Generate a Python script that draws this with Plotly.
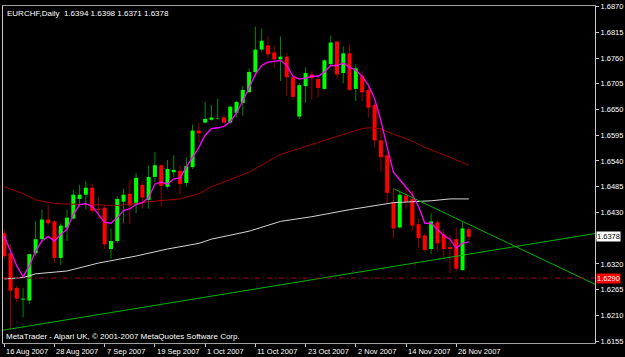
import plotly.graph_objects as go

# ---------------- data ----------------
symbol_title = "EURCHF,Daily"

opens = [1.6386, 1.6343, 1.6269, 1.6244, 1.6242, 1.6343, 1.6373, 1.6415, 1.6411, 1.6333,
         1.6398, 1.6417, 1.6459, 1.6468, 1.6483, 1.6438, 1.6440, 1.6352, 1.6369, 1.6453,
         1.6470, 1.6447, 1.6489, 1.6457, 1.6506, 1.6531, 1.6485, 1.6516, 1.6519, 1.6493,
         1.6527, 1.6605, 1.6622, 1.6628, 1.6630, 1.6633, 1.6622, 1.6643, 1.6664, 1.6687,
         1.6730, 1.6778, 1.6787, 1.6772, 1.6757, 1.6763, 1.6719, 1.6635, 1.6700, 1.6725,
         1.6715, 1.6694, 1.6747, 1.6795, 1.6728, 1.6770, 1.6694, 1.6721, 1.6692, 1.6660,
         1.6584, 1.6552, 1.6451, 1.6398, 1.6466, 1.6459, 1.6405, 1.6381, 1.6352, 1.6409,
         1.6383, 1.6356, 1.6373, 1.6307, 1.6394]
highs = [1.6394, 1.6362, 1.6274, 1.6269, 1.6342, 1.6411, 1.6436, 1.6447, 1.6413, 1.6407,
         1.6436, 1.6478, 1.6489, 1.6497, 1.6491, 1.6462, 1.6445, 1.6396, 1.6464, 1.6481,
         1.6500, 1.6514, 1.6497, 1.6531, 1.6559, 1.6533, 1.6542, 1.6552, 1.6531, 1.6548,
         1.6618, 1.6622, 1.6666, 1.6660, 1.6673, 1.6639, 1.6658, 1.6668, 1.6700, 1.6738,
         1.6827, 1.6823, 1.6806, 1.6787, 1.6806, 1.6770, 1.6723, 1.6706, 1.6740, 1.6732,
         1.6721, 1.6757, 1.6808, 1.6797, 1.6785, 1.6789, 1.6747, 1.6732, 1.6700, 1.6664,
         1.6607, 1.6559, 1.6481, 1.6474, 1.6489, 1.6476, 1.6417, 1.6386, 1.6428, 1.6413,
         1.6394, 1.6383, 1.6398, 1.6411, 1.6398]
lows = [1.6331, 1.6179, 1.6238, 1.6206, 1.6234, 1.6337, 1.6369, 1.6402, 1.6322, 1.6318,
        1.6369, 1.6415, 1.6443, 1.6436, 1.6428, 1.6417, 1.6352, 1.6331, 1.6364, 1.6407,
        1.6405, 1.6428, 1.6438, 1.6438, 1.6495, 1.6443, 1.6481, 1.6506, 1.6468, 1.6485,
        1.6523, 1.6580, 1.6620, 1.6626, 1.6628, 1.6620, 1.6620, 1.6633, 1.6637, 1.6685,
        1.6723, 1.6774, 1.6759, 1.6738, 1.6711, 1.6679, 1.6671, 1.6630, 1.6664, 1.6671,
        1.6675, 1.6692, 1.6744, 1.6715, 1.6706, 1.6690, 1.6668, 1.6668, 1.6633, 1.6569,
        1.6516, 1.6449, 1.6375, 1.6396, 1.6438, 1.6390, 1.6354, 1.6345, 1.6341, 1.6348,
        1.6331, 1.6299, 1.6305, 1.6305, 1.6371]
closes = [1.6337, 1.6263, 1.6246, 1.6246, 1.6341, 1.6373, 1.6415, 1.6407, 1.6333, 1.6402,
          1.6419, 1.6468, 1.6468, 1.6483, 1.6434, 1.6436, 1.6362, 1.6369, 1.6459, 1.6468,
          1.6445, 1.6504, 1.6462, 1.6506, 1.6531, 1.6487, 1.6523, 1.6521, 1.6491, 1.6529,
          1.6605, 1.6599, 1.6630, 1.6633, 1.6631, 1.6622, 1.6656, 1.6666, 1.6692, 1.6730,
          1.6778, 1.6797, 1.6768, 1.6757, 1.6763, 1.6719, 1.6677, 1.6702, 1.6728, 1.6717,
          1.6696, 1.6755, 1.6793, 1.6725, 1.6770, 1.6692, 1.6738, 1.6687, 1.6654, 1.6584,
          1.6548, 1.6472, 1.6396, 1.6468, 1.6453, 1.6402, 1.6375, 1.6350, 1.6411, 1.6364,
          1.6352, 1.6352, 1.6310, 1.6396, 1.6378]

# magenta fast average, one value per bar
ma_fast = [1.6379, 1.6348, 1.6316, 1.6293, 1.6316, 1.6348, 1.6369, 1.6379, 1.6369, 1.6383,
           1.6394, 1.6426, 1.6447, 1.6449, 1.6443, 1.6426, 1.6409, 1.6407, 1.6419, 1.6434,
           1.6438, 1.6447, 1.6451, 1.6462, 1.6491, 1.6495, 1.6491, 1.6502, 1.6504, 1.6527,
           1.6548, 1.6569, 1.6595, 1.6609, 1.6611, 1.6614, 1.6624, 1.6643, 1.6668, 1.6696,
           1.6725, 1.6744, 1.6751, 1.6753, 1.6755, 1.6744, 1.6721, 1.6715, 1.6717, 1.6721,
           1.6721, 1.6730, 1.6744, 1.6744, 1.6749, 1.6740, 1.6734, 1.6721, 1.6702, 1.6673,
           1.6626, 1.6569, 1.6516, 1.6500, 1.6485, 1.6468, 1.6443, 1.6407, 1.6407, 1.6394,
           1.6381, 1.6373, 1.6354, 1.6364, 1.6367]

# dark red average (read at selected bars)
ma_mid_bars = [0, 3, 5, 8, 18, 23, 28, 31, 33, 39, 44, 49, 55, 57, 58, 60, 62, 64, 67, 71, 74]
ma_mid = [1.6485, 1.6470, 1.6457, 1.6449, 1.6445, 1.6453, 1.6459, 1.6470, 1.6485, 1.6516,
          1.6554, 1.6576, 1.6601, 1.6609, 1.6611, 1.6609, 1.6597, 1.6588, 1.6569, 1.6548, 1.6531]

# light grey slow average (read at selected bars)
ma_slow_bars = [0, 3, 5, 10, 15, 21, 26, 31, 33, 39, 44, 49, 55, 57, 60, 62, 65, 68, 71, 74]
ma_slow = [1.6288, 1.6291, 1.6299, 1.6305, 1.6322, 1.6337, 1.6352, 1.6364, 1.6373, 1.6390,
           1.6411, 1.6421, 1.6436, 1.6440, 1.6447, 1.6451, 1.6453, 1.6455, 1.6459, 1.6459]

# trend lines: anchor bars and prices
trend_up_bars = [0, 74]
trend_up_prices = [1.6179, 1.6341]
trend_down_bars = [62, 73]
trend_down_prices = [1.6481, 1.6411]

alert_level = 1.6290

tick_bars = [0, 8, 16, 24, 32, 40, 48, 56, 64, 72]
tick_labels = ["16 Aug 2007", "28 Aug 2007", "7 Sep 2007", "19 Sep 2007", "1 Oct 2007",
               "11 Oct 2007", "23 Oct 2007", "2 Nov 2007", "14 Nov 2007", "26 Nov 2007"]
price_ticks = [1.6870, 1.6815, 1.6760, 1.6705, 1.6650, 1.6595, 1.6540, 1.6485,
               1.6430, 1.6375, 1.6320, 1.6265, 1.6210, 1.6155]
price_tick_labels = ["1.6870", "1.6815", "1.6760", "1.6705", "1.6650", "1.6595", "1.6540",
                     "1.6485", "1.6430", "", "1.6320", "1.6265", "1.6210", "1.6155"]
watermark = "MetaTrader - Alpari UK, \u00a9 2001-2007 MetaQuotes Software Corp."

# ---------------- figure ----------------
X_RANGE = [-0.2, 94.1]
Y_RANGE = [1.61512, 1.68711]
FONT = "Liberation Sans"

bars = list(range(len(opens)))
up = [i for i in bars if closes[i] >= opens[i]]
dn = [i for i in bars if closes[i] < opens[i]]


def segments(idx, a, b):
    xs, ys = [], []
    for i in idx:
        xs += [i, i, None]
        ys += [a[i], b[i], None]
    return xs, ys


fig = go.Figure()

# wicks
for idx, col in ((up, "#008a00"), (dn, "#9a0000")):
    xs, ys = segments(idx, lows, highs)
    fig.add_trace(go.Scatter(x=xs, y=ys, mode="lines", line=dict(color=col, width=1),
                             hoverinfo="skip"))
# bodies
for idx, col in ((up, "#00ff00"), (dn, "#ff0000")):
    xs, ys = segments(idx, opens, closes)
    fig.add_trace(go.Scatter(x=xs, y=ys, mode="lines", line=dict(color=col, width=4),
                             hoverinfo="skip"))

# moving averages
fig.add_trace(go.Scatter(x=ma_slow_bars, y=ma_slow, mode="lines",
                         line=dict(color="#d4d4d4", width=1)))
fig.add_trace(go.Scatter(x=ma_mid_bars, y=ma_mid, mode="lines",
                         line=dict(color="#a00000", width=1)))
fig.add_trace(go.Scatter(x=bars, y=ma_fast, mode="lines",
                         line=dict(color="#ff00ff", width=1.3)))


# trend lines (rays extended to the chart edges)
def ray(bx, py, x_from, x_to):
    s = (py[1] - py[0]) / (bx[1] - bx[0])
    return [x_from, x_to], [py[0] + s * (x_from - bx[0]), py[0] + s * (x_to - bx[0])]


xs, ys = ray(trend_up_bars, trend_up_prices, X_RANGE[0], X_RANGE[1])
fig.add_trace(go.Scatter(x=xs, y=ys, mode="lines", line=dict(color="#00b400", width=1)))
xs, ys = ray(trend_down_bars, trend_down_prices, trend_down_bars[0], X_RANGE[1])
fig.add_trace(go.Scatter(x=xs, y=ys, mode="lines", line=dict(color="#00b400", width=1)))

# alert line
fig.add_shape(type="line", xref="paper", x0=0, x1=1, yref="y", y0=alert_level, y1=alert_level,
              line=dict(color="#a0002a", width=1, dash="5px,3px,1px,3px"), layer="above")

annotations = []
last = len(opens) - 1
annotations.append(dict(
    xref="paper", yref="paper", x=0, y=1, xanchor="left", yanchor="top", xshift=2, yshift=-1,
    text=f"{symbol_title}\u00a0\u00a0{opens[last]:.4f} {highs[last]:.4f} {lows[last]:.4f} {closes[last]:.4f}",
    showarrow=False, font=dict(color="white", size=8, family=FONT)))
annotations.append(dict(
    xref="paper", yref="paper", x=0, y=0, xanchor="left", yanchor="bottom", xshift=1, yshift=0,
    text=watermark, showarrow=False, font=dict(color="white", size=8, family=FONT)))
for b, lab in zip(tick_bars, tick_labels):
    annotations.append(dict(
        xref="x", yref="paper", x=b, y=0, xanchor="left", yanchor="middle", xshift=0, yshift=-8,
        text=lab, showarrow=False, font=dict(color="white", size=7.5, family=FONT)))
annotations.append(dict(
    xref="paper", yref="y", x=1, y=closes[last], xanchor="left", yanchor="middle", xshift=1,
    text=f"{closes[last]:.4f}", showarrow=False, bgcolor="white", borderpad=0,
    font=dict(color="black", size=7.5, family=FONT)))
annotations.append(dict(
    xref="paper", yref="y", x=1, y=alert_level, xanchor="left", yanchor="middle", xshift=1,
    text=f"{alert_level:.4f}", showarrow=False, bgcolor="#ff0000", borderpad=0,
    font=dict(color="white", size=7.5, family=FONT)))

fig.update_layout(
    width=625, height=357,
    margin=dict(l=2, r=30, t=2, b=14, pad=0),
    paper_bgcolor="black", plot_bgcolor="black",
    showlegend=False, hovermode=False,
    annotations=annotations,
    xaxis=dict(range=X_RANGE, tickmode="array", tickvals=tick_bars, showticklabels=False,
               ticks="outside", ticklen=3, tickcolor="#c8c8c8", tickwidth=1,
               showgrid=False, zeroline=False, showline=True, linecolor="#a0a0a0",
               linewidth=1, mirror=True, fixedrange=True),
    yaxis=dict(side="right", range=Y_RANGE, tickmode="array", tickvals=price_ticks,
               ticktext=price_tick_labels, ticks="outside", ticklen=3, tickcolor="#c8c8c8",
               tickfont=dict(color="white", size=7.5, family=FONT), ticklabeloverflow="allow",
               showgrid=False, zeroline=False, showline=True, linecolor="#c8c8c8",
               linewidth=1, mirror=True, fixedrange=True),
)

fig.write_html("out.html")
